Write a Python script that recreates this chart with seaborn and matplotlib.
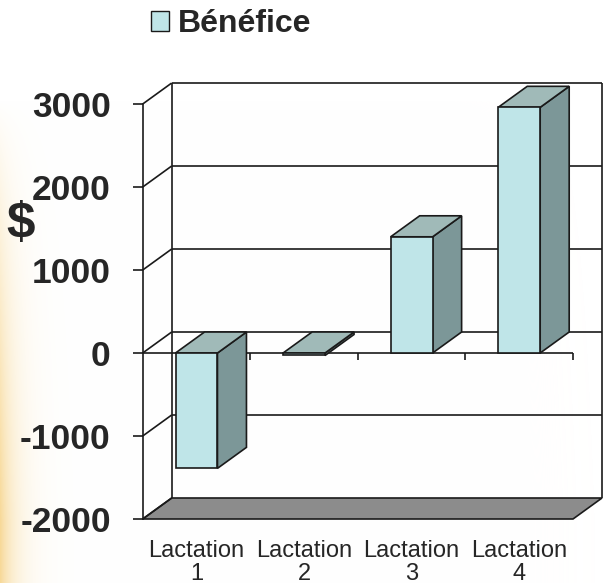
import numpy as np
import pandas as pd
import matplotlib
matplotlib.use("Agg")
import matplotlib.pyplot as plt
from matplotlib.patches import Polygon, Patch
import seaborn as sns

# ---- data ----
categories = ["Lactation\n1", "Lactation\n2", "Lactation\n3", "Lactation\n4"]
benefice = [-1390, -30, 1400, 2960]
series_label = "Bénéfice"
y_ticks = [-2000, -1000, 0, 1000, 2000, 3000]
y_label = "$"

# ---- style ----
sns.set_style("white")
plt.rcParams["font.family"] = ["Liberation Sans", "DejaVu Sans"]

FRONT = "#bfe5e8"
SIDE = "#7c9798"
TOP = "#a0bab8"
FLOOR = "#8c8c8c"
EDGE = "#1a1a1a"
LW = 1.2

W, H, DPI = 603, 583, 100
fig = plt.figure(figsize=(W / DPI, H / DPI), dpi=DPI)

# background glow on the left edge
bg = fig.add_axes([0, 0, 1, 1], zorder=-10)
xx, yy = np.meshgrid(np.arange(W), np.arange(H))
wgt = np.exp(-xx / 16.0) * np.clip((yy - 100) / 420.0, 0, 1) ** 0.9 * 0.75
base = np.array([1.0, 1.0, 1.0])
glow = np.array([245, 205, 120]) / 255.0
img = base[None, None, :] * (1 - wgt[..., None]) + glow[None, None, :] * wgt[..., None]
bg.imshow(img, aspect="auto", extent=[0, 1, 0, 1], origin="upper")
bg.axis("off")

# main axes (front plane)
left_px, right_px = 142.7, 573.0
top_px, bot_px = 104.0, 519.0
ax = fig.add_axes([left_px / W, (H - bot_px) / H, (right_px - left_px) / W, (bot_px - top_px) / H])
ax.patch.set_alpha(0)

df = pd.DataFrame({"cat": categories, "val": benefice})
sns.barplot(data=df, x="cat", y="val", color=FRONT, saturation=1, width=0.39,
            edgecolor=EDGE, linewidth=LW, ax=ax, zorder=5)
bar_patches = list(ax.patches)
ax.set_xlim(-0.5, len(categories) - 0.5)
ax.set_ylim(min(y_ticks), max(y_ticks))
fig.canvas.draw()

# depth offset in data units derived from a pixel offset
DX_PX, DY_PX = 29, 21
p0 = ax.transData.transform((0, 0))
p1 = ax.transData.inverted().transform(p0 + np.array([DX_PX, DY_PX]))
ddx, ddy = p1[0], p1[1]

x0, x1 = ax.get_xlim()
y0, y1 = ax.get_ylim()

def line(xs, ys, z=1, **kw):
    ax.plot(xs, ys, color=EDGE, lw=LW, clip_on=False, zorder=z, solid_capstyle="butt", **kw)

# floor
ax.add_patch(Polygon([(x0, y0), (x1, y0), (x1 + ddx, y0 + ddy), (x0 + ddx, y0 + ddy)],
                     closed=True, facecolor=FLOOR, edgecolor=EDGE, lw=LW, clip_on=False, zorder=1))
# back wall verticals
line([x0 + ddx, x0 + ddx], [y0 + ddy, y1 + ddy])
line([x1 + ddx, x1 + ddx], [y0 + ddy, y1 + ddy])
# back wall gridlines and side wall diagonals
for v in y_ticks:
    if v > y0:
        line([x0 + ddx, x1 + ddx], [v + ddy, v + ddy])
    line([x0, x0 + ddx], [v, v + ddy])

# zero axis with category boundary ticks
line([x0, x1], [0, 0], z=2)
bounds = np.arange(len(categories)) + 0.5
tick_len = ax.transData.inverted().transform(p0 - np.array([0, 7]))[1]
ax.vlines(bounds, tick_len, 0, color=EDGE, lw=LW, zorder=2, clip_on=False)

# 3-D faces of bars
for p in bar_patches:
    bx, by = p.get_x(), p.get_y()
    bw, bh = p.get_width(), p.get_height()
    b, t = min(by, by + bh), max(by, by + bh)
    xa, xb = bx, bx + bw
    ax.add_patch(Polygon([(xb, b), (xb, t), (xb + ddx, t + ddy), (xb + ddx, b + ddy)],
                         closed=True, facecolor=SIDE, edgecolor=EDGE, lw=LW, clip_on=False, zorder=4))
    ax.add_patch(Polygon([(xa, t), (xb, t), (xb + ddx, t + ddy), (xa + ddx, t + ddy)],
                         closed=True, facecolor=TOP, edgecolor=EDGE, lw=LW, clip_on=False, zorder=4))

# axes styling
for s in ["top", "right", "bottom"]:
    ax.spines[s].set_visible(False)
ax.spines["left"].set_color(EDGE)
ax.spines["left"].set_linewidth(LW)
ax.set_yticks(y_ticks)
ax.set_yticklabels([str(v) for v in y_ticks], fontsize=25.5, fontweight="bold")
ax.tick_params(axis="y", left=True, length=7, width=LW, color=EDGE, pad=16, direction="out")
ax.tick_params(axis="x", length=0, pad=15, labelsize=17)
for lab in ax.get_xticklabels():
    lab.set_linespacing(1.08)
ax.set_xlabel("")
ax.set_ylabel("")
fig.text(20.5 / W, 1 - 224 / H, y_label, fontsize=37, fontweight="bold", ha="center", va="center")

# legend
handle = Patch(facecolor=FRONT, edgecolor=EDGE, lw=1.0)
fig.legend([handle], [series_label], loc="upper left",
           bbox_to_anchor=(151 / W, 1 - 9 / H), frameon=False,
           prop={"weight": "bold", "size": 23}, handlelength=0.55, handleheight=0.6,
           handletextpad=0.3, borderpad=0, borderaxespad=0)

fig.savefig("out.png", dpi=DPI)
